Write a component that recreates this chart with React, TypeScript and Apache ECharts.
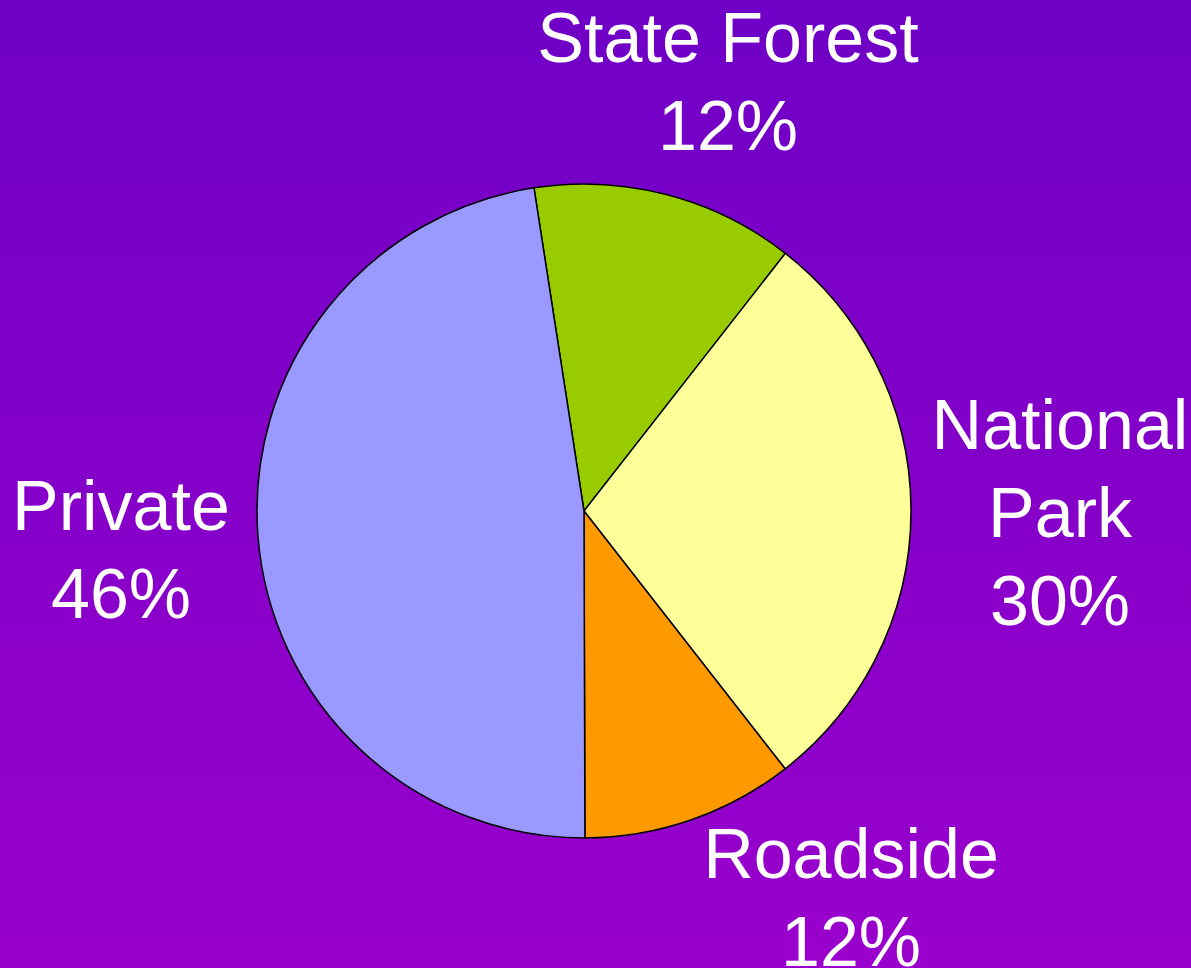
import React, { useEffect, useRef } from "react";
import * as echarts from "echarts";

const categories = ["State Forest", "National Park", "Roadside", "Private"];
const labelNames = ["State Forest", "National\nPark", "Roadside", "Private"];
const values = [13.0, 28.9, 10.5, 47.6];
const percentLabels = ["12%", "30%", "12%", "46%"];
const colors = ["#99CC00", "#FFFF99", "#FF9900", "#9999FF"];
const labelPos = [
  [728, 82],
  [1060, 513],
  [851, 898],
  [121, 550],
];

export default function App() {
  const ref = useRef<HTMLDivElement>(null);
  useEffect(() => {
    document.body.style.margin = "0";
    const chart = echarts.init(ref.current!, undefined, { renderer: "svg" });
    chart.setOption({
      animation: false,
      backgroundColor: new echarts.graphic.LinearGradient(0, 0, 0, 1, [
        { offset: 0, color: "#6F00C6" },
        { offset: 1, color: "#9A00CC" },
      ]),
      series: [
        {
          type: "pie",
          center: [584, 511],
          radius: 327,
          startAngle: 98.8,
          clockwise: true,
          itemStyle: { borderColor: "#000000", borderWidth: 1.5 },
          emphasis: { disabled: true },
          labelLine: { show: false },
          label: {
            show: true,
            color: "#FFFFFF",
            fontFamily: "Liberation Sans, Arial, sans-serif",
            fontSize: 70,
            lineHeight: 88,
            align: "center",
            overflow: "none",
            width: 400,
            formatter: (p: any) => labelNames[p.dataIndex] + "\n" + percentLabels[p.dataIndex],
          },
          labelLayout: (p: any) => ({
            x: labelPos[p.dataIndex][0],
            y: labelPos[p.dataIndex][1],
            align: "center",
            verticalAlign: "middle",
          }),
          data: categories.map((c, i) => ({
            name: c,
            value: values[i],
            itemStyle: { color: colors[i] },
          })),
        },
      ],
    });
    return () => chart.dispose();
  }, []);
  return <div ref={ref} style={{ width: 1191, height: 968 }} />;
}
